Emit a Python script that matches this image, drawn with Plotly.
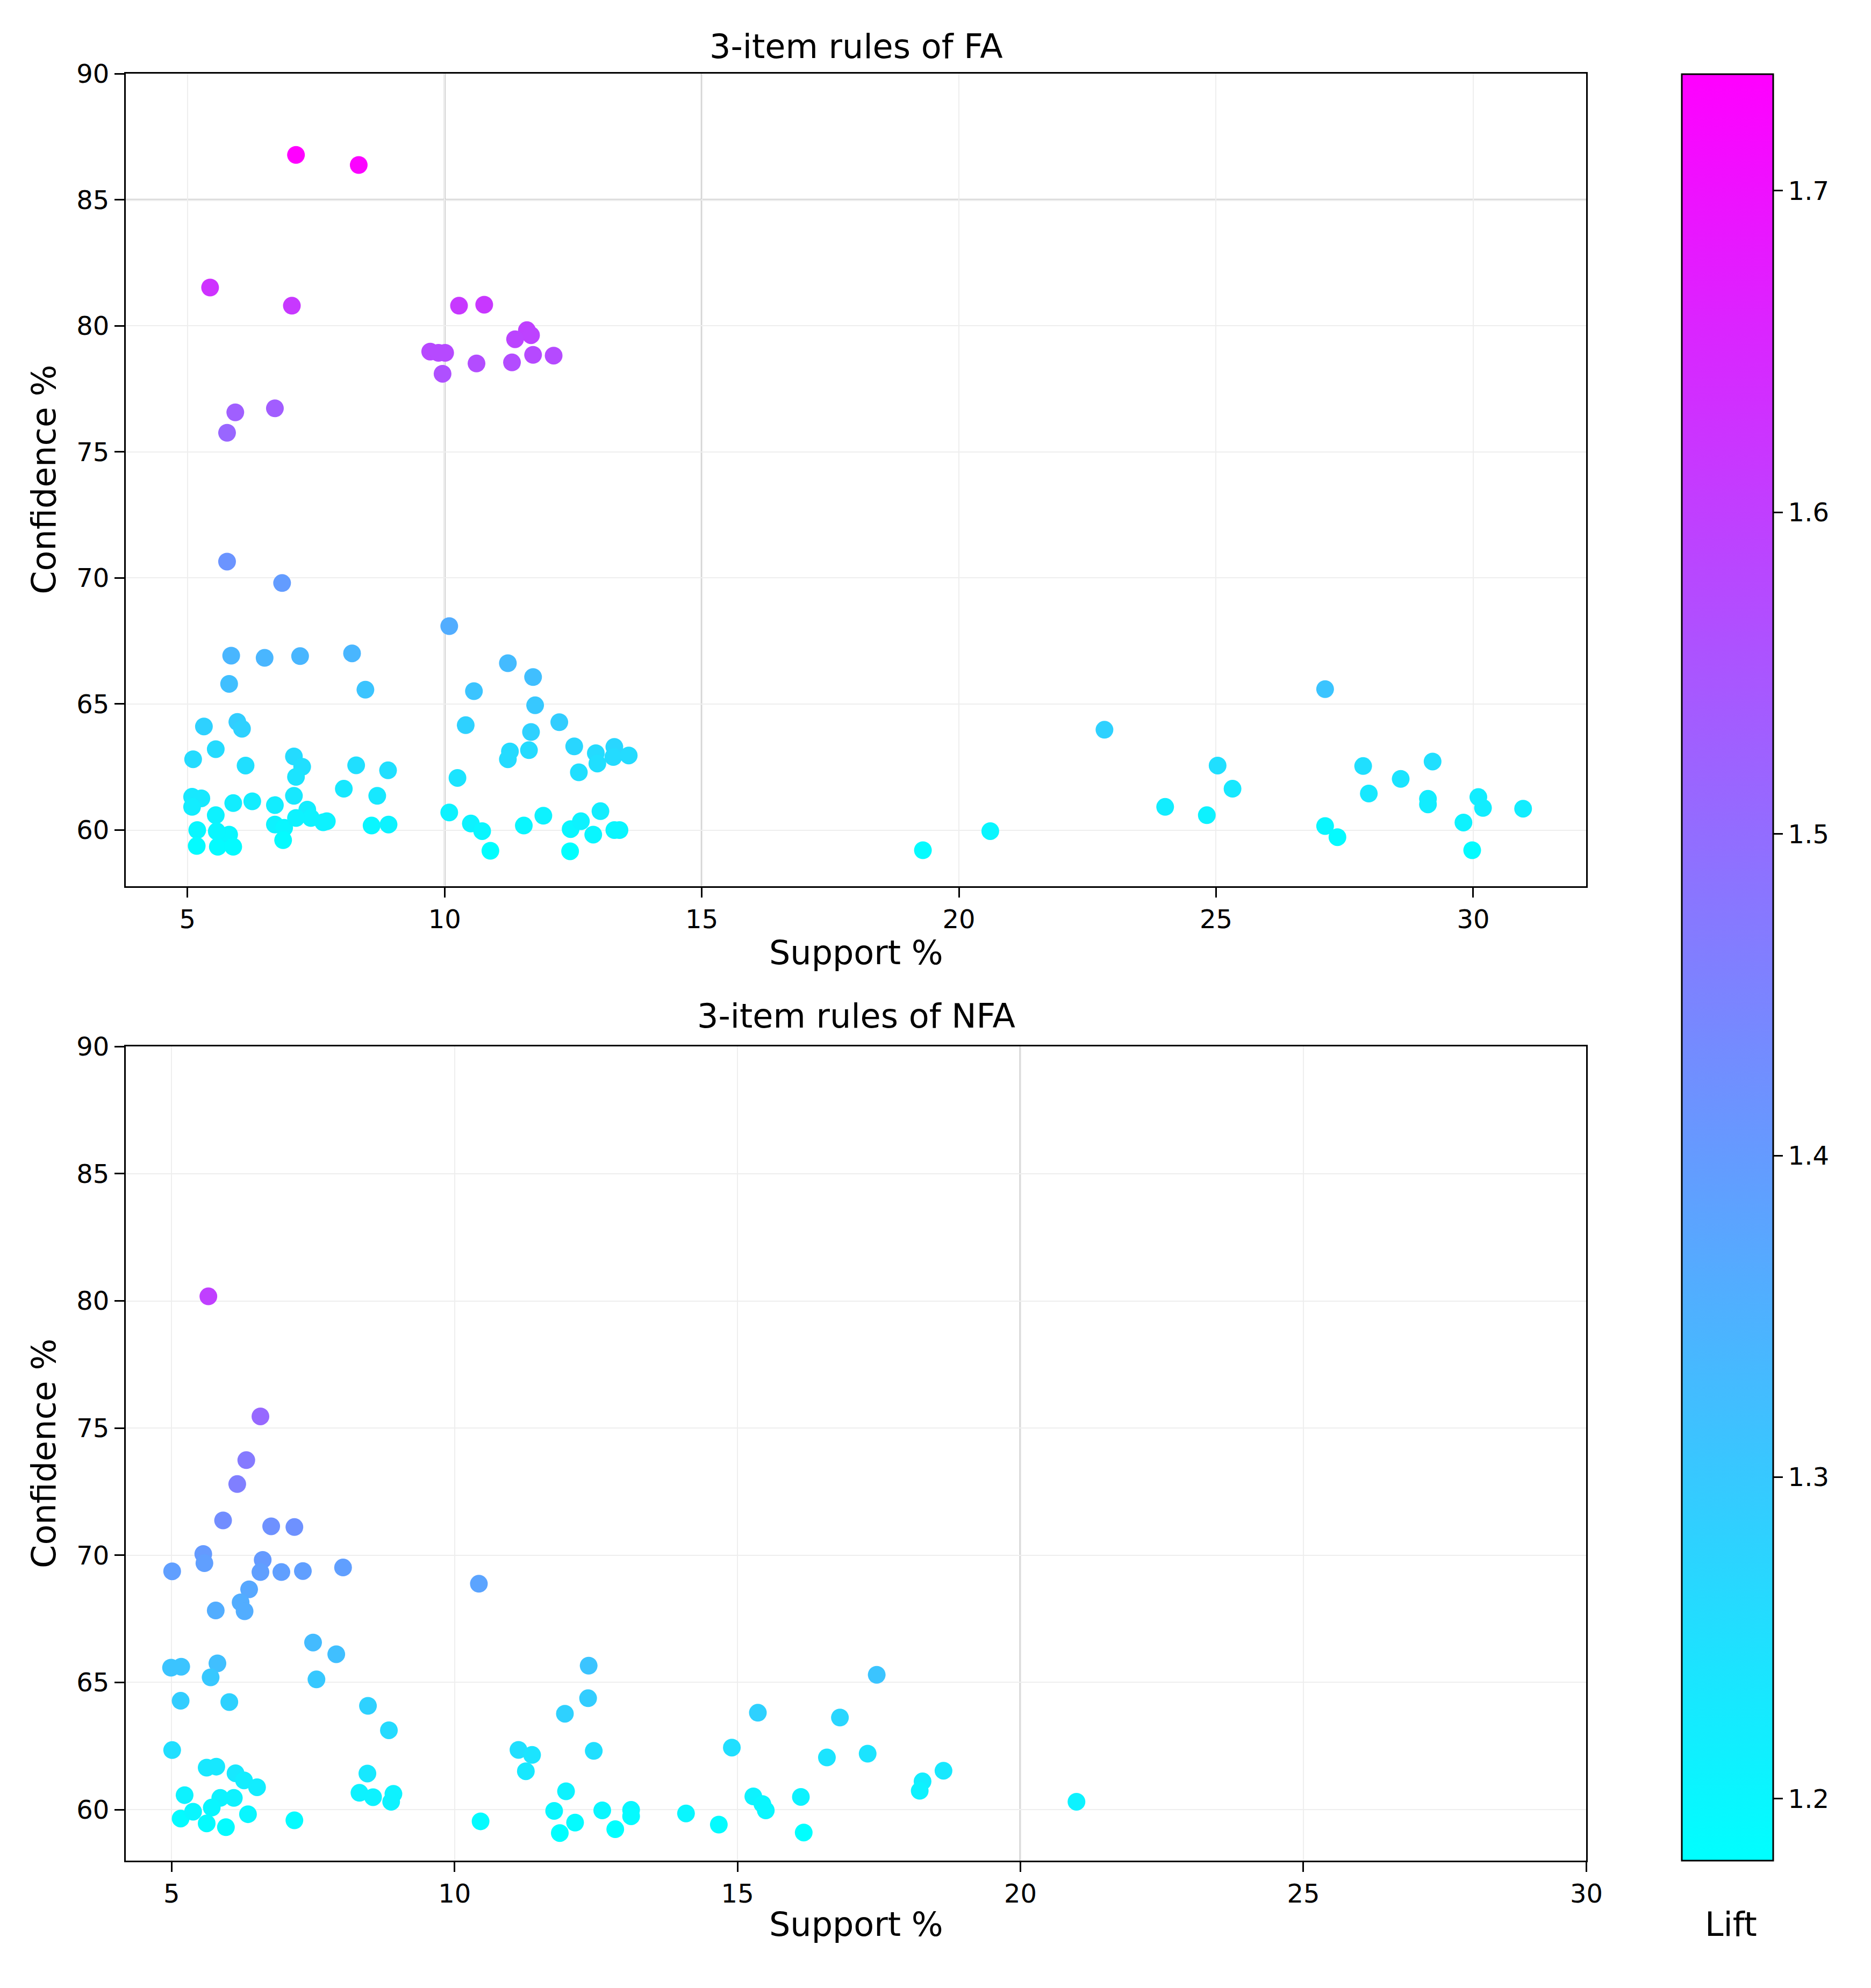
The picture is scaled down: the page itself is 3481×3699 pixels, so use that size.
"""
3-item association rules of FA / NFA : support vs confidence, coloured by lift
"""

import plotly.graph_objects as go
from plotly.subplots import make_subplots

# ── data ─────────────────────────────────────────────────────────────
fa_support = [
    7.11, 8.33, 5.44, 7.03, 10.28, 10.77, 11.60, 11.68, 11.37, 9.72, 9.88, 10.01,
    9.96, 10.62, 11.31, 11.72, 12.12, 5.93, 6.70, 5.77, 5.77, 6.84,
    10.09, 5.85, 6.50, 7.19, 8.20, 5.81, 8.46, 11.23, 11.72, 10.57, 11.76, 12.23,
    10.41, 11.68, 5.32, 5.97, 6.06, 5.55, 5.11, 6.13, 7.07, 7.23, 7.11, 8.28,
    8.90, 8.04, 8.69, 11.27, 11.23, 11.64, 12.52, 12.61, 12.94, 12.97, 13.30, 13.28,
    13.58, 10.25, 5.09, 5.27, 5.09, 5.89, 6.26, 6.70, 7.07, 7.33, 7.40, 7.71,
    7.64, 5.55, 5.19, 5.18, 5.59, 5.81, 5.89, 5.57, 6.70, 6.88, 6.86, 7.11,
    8.58, 8.91, 10.09, 10.51, 10.73, 10.89, 11.54, 11.92, 12.45, 12.65, 13.03, 12.89,
    13.30, 13.40, 12.44,
    19.30, 20.61, 22.83, 24.01, 24.82, 25.03, 25.32, 27.12, 27.12, 27.36, 27.86, 27.97,
    28.59, 29.21, 29.12, 29.12, 29.81, 29.98, 30.10, 30.19, 30.97,
]
fa_confidence = [
    86.78, 86.38, 81.52, 80.80, 80.80, 80.84, 79.83, 79.63, 79.47, 78.98, 78.93, 78.93,
    78.10, 78.51, 78.55, 78.85, 78.82, 76.57, 76.73, 75.76, 70.65, 69.80,
    68.09, 66.92, 66.83, 66.90, 67.01, 65.80, 65.57, 66.62, 66.07, 65.51, 64.95, 64.28,
    64.16, 63.89, 64.11, 64.29, 64.02, 63.21, 62.81, 62.56, 62.92, 62.51, 62.11, 62.57,
    62.37, 61.64, 61.36, 63.12, 62.81, 63.17, 63.32, 62.29, 63.05, 62.64, 63.30, 62.90,
    62.96, 62.07, 61.32, 61.26, 60.92, 61.07, 61.14, 60.99, 61.36, 60.81, 60.48, 60.35,
    60.31, 60.59, 60.00, 59.37, 59.34, 59.82, 59.34, 59.95, 60.22, 60.09, 59.60, 60.48,
    60.18, 60.22, 60.70, 60.26, 59.96, 59.18, 60.18, 60.57, 60.04, 60.35, 60.75, 59.82,
    60.00, 60.00, 59.16,
    59.20, 59.96, 63.98, 60.92, 60.59, 62.56, 61.64, 65.59, 60.16, 59.72, 62.54, 61.45,
    62.03, 62.72, 61.24, 61.02, 60.30, 59.20, 61.31, 60.88, 60.85,
]
fa_lift = [
    1.736, 1.728, 1.63, 1.615, 1.615, 1.617, 1.596, 1.592, 1.589, 1.579, 1.578, 1.578,
    1.562, 1.570, 1.571, 1.577, 1.576, 1.53, 1.534, 1.515, 1.413, 1.396,
    1.36, 1.34, 1.34, 1.34, 1.34, 1.32, 1.31, 1.33, 1.32, 1.31, 1.30, 1.29,
    1.28, 1.28, 1.28, 1.29, 1.28, 1.26, 1.26, 1.25, 1.26, 1.25, 1.24, 1.25,
    1.25, 1.23, 1.23, 1.26, 1.26, 1.26, 1.27, 1.25, 1.26, 1.25, 1.27, 1.26,
    1.26, 1.24, 1.23, 1.23, 1.22, 1.22, 1.22, 1.22, 1.23, 1.22, 1.21, 1.21,
    1.21, 1.21, 1.20, 1.19, 1.19, 1.20, 1.19, 1.20, 1.21, 1.20, 1.19, 1.21,
    1.20, 1.21, 1.21, 1.21, 1.20, 1.183, 1.20, 1.21, 1.20, 1.21, 1.22, 1.20,
    1.20, 1.20, 1.181,
    1.19, 1.20, 1.28, 1.22, 1.21, 1.25, 1.23, 1.31, 1.20, 1.19, 1.25, 1.23,
    1.24, 1.25, 1.22, 1.22, 1.21, 1.19, 1.22, 1.22, 1.22,
]

nfa_support = [
    5.65, 6.57, 6.32, 6.16, 5.91, 6.76, 7.17, 5.56, 5.58, 5.01, 6.61, 6.57,
    6.94, 7.32, 8.03, 10.43, 6.37, 6.22, 6.29, 5.78, 7.50, 7.91, 7.56, 4.99,
    5.17, 5.81, 5.69, 5.16, 6.02, 8.47, 8.84, 5.01, 5.62, 5.79, 6.13, 6.28,
    6.51, 6.10, 5.86, 5.71, 5.23, 5.16, 5.38, 5.62, 5.96, 6.35, 7.17, 8.46,
    8.32, 8.56, 8.92, 8.88, 10.46, 11.13, 11.37, 11.26, 11.95, 12.37, 12.36, 12.46,
    11.97, 11.76, 11.86, 12.13, 12.61, 12.84, 13.12, 13.12,
    17.46, 15.36, 16.81, 14.90, 16.58, 17.30, 18.64, 18.27, 18.22, 16.12, 16.17, 15.28,
    15.44, 15.50, 14.09, 14.67, 20.99,
]
nfa_confidence = [
    80.18, 75.46, 73.74, 72.80, 71.37, 71.14, 71.11, 70.05, 69.69, 69.37, 69.82, 69.34,
    69.34, 69.38, 69.52, 68.88, 68.66, 68.15, 67.80, 67.83, 66.57, 66.11, 65.12, 65.58,
    65.62, 65.75, 65.20, 64.28, 64.23, 64.08, 63.12, 62.34, 61.65, 61.69, 61.43, 61.15,
    60.88, 60.46, 60.46, 60.08, 60.57, 59.65, 59.92, 59.46, 59.31, 59.82, 59.58, 61.42,
    60.66, 60.49, 60.62, 60.31, 59.54, 62.35, 62.15, 61.51, 63.77, 65.66, 64.38, 62.31,
    60.72, 59.95, 59.08, 59.49, 59.97, 59.23, 59.99, 59.74,
    65.30, 63.81, 63.62, 62.44, 62.05, 62.20, 61.53, 61.11, 60.74, 60.50, 59.10, 60.52,
    60.22, 59.97, 59.85, 59.41, 60.31,
]
nfa_lift = [
    1.60, 1.51, 1.47, 1.46, 1.43, 1.42, 1.42, 1.40, 1.39, 1.39, 1.40, 1.39,
    1.39, 1.39, 1.39, 1.38, 1.37, 1.36, 1.36, 1.36, 1.33, 1.32, 1.30, 1.31,
    1.31, 1.32, 1.30, 1.29, 1.28, 1.28, 1.26, 1.25, 1.23, 1.23, 1.23, 1.22,
    1.22, 1.21, 1.21, 1.20, 1.21, 1.19, 1.20, 1.19, 1.19, 1.20, 1.19, 1.23,
    1.21, 1.21, 1.21, 1.21, 1.19, 1.25, 1.24, 1.23, 1.28, 1.31, 1.29, 1.25,
    1.21, 1.20, 1.18, 1.19, 1.20, 1.18, 1.20, 1.19,
    1.31, 1.28, 1.27, 1.25, 1.24, 1.24, 1.23, 1.22, 1.21, 1.21, 1.18, 1.21,
    1.20, 1.20, 1.20, 1.19, 1.21,
]

x_ticks = [5, 10, 15, 20, 25, 30]
y_ticks = [60, 65, 70, 75, 80, 85, 90]
lift_ticks = [1.2, 1.3, 1.4, 1.5, 1.6, 1.7]

# grid lines that come out darker in the original picture
fa_dark_x = [10, 15]
fa_dark_y = [85]
nfa_dark_x = [20]

# ── page geometry ────────────────────────────────────────────────────
# positions below are measured in the 3481x3699 reference; the figure
# lands a little below/right of the window corner, so shift by that
WIN_W, WIN_H = 3481, 3699
OX, OY = 8, 31
W, H = WIN_W - 16, WIN_H - 16


def fx(px):
    return (px - OX) / W


def fy(py):
    return 1 - (py - OY) / H


FONT = "DejaVu Sans"
TICK_SIZE = 48
LABEL_SIZE = 62
COOL = [[0.0, "#00FFFF"], [1.0, "#FF00FF"]]

fig = make_subplots(rows=2, cols=1)

for row, (sx, cy, lf) in enumerate(
    [(fa_support, fa_confidence, fa_lift), (nfa_support, nfa_confidence, nfa_lift)], start=1
):
    fig.add_trace(
        go.Scatter(
            x=sx, y=cy, mode="markers", showlegend=False,
            marker=dict(color=lf, coloraxis="coloraxis", size=33, line=dict(width=0)),
        ),
        row=row, col=1,
    )

axis_common = dict(
    showline=True, linecolor="black", linewidth=3, mirror=True,
    ticks="outside", ticklen=18, tickwidth=3, tickcolor="black",
    showgrid=True, gridcolor="#eeeeee", gridwidth=2, zeroline=False,
    tickfont=dict(family=FONT, size=TICK_SIZE, color="black"),
)

fig.update_xaxes(axis_common, tickvals=x_ticks)
fig.update_yaxes(axis_common, tickvals=y_ticks)

x_dom = [fx(236), fx(2978)]
fig.update_xaxes(range=[3.80, 32.2], domain=x_dom, row=1, col=1)
fig.update_yaxes(range=[57.78, 90], domain=[fy(1656), fy(133)], row=1, col=1)
fig.update_xaxes(range=[4.19, 30], domain=x_dom, row=2, col=1)
fig.update_yaxes(range=[58.0, 90], domain=[fy(3483), fy(1957)], row=2, col=1)

# darker grid lines
grid_line = dict(color="#aaaaaa", width=3)
for v in fa_dark_x:
    fig.add_shape(type="line", xref="x", yref="y domain", x0=v, x1=v, y0=0, y1=1,
                  line=grid_line, layer="below")
for v in fa_dark_y:
    fig.add_shape(type="line", xref="x domain", yref="y", x0=0, x1=1, y0=v, y1=v,
                  line=grid_line, layer="below")
for v in nfa_dark_x:
    fig.add_shape(type="line", xref="x2", yref="y2 domain", x0=v, x1=v, y0=0, y1=1,
                  line=grid_line, layer="below")

# titles / axis labels
mid_x = fx(1607)
texts = [
    ("3-item rules of FA", mid_x, fy(82), 0),
    ("3-item rules of NFA", mid_x, fy(1900), 0),
    ("Support %", mid_x, fy(1781), 0),
    ("Support %", mid_x, fy(3603), 0),
    ("Confidence %", fx(82), fy(894), -90),
    ("Confidence %", fx(82), fy(2720), -90),
    ("Lift", fx(3250), fy(3603), 0),
]
for txt, ax, ay, ang in texts:
    fig.add_annotation(
        text=txt, x=ax, y=ay, xref="paper", yref="paper",
        xanchor="center", yanchor="middle", showarrow=False, textangle=ang,
        font=dict(family=FONT, size=LABEL_SIZE, color="black"),
    )

fig.update_layout(
    width=W, height=H,
    margin=dict(l=0, r=0, t=0, b=0),
    paper_bgcolor="white",
    plot_bgcolor="white",
    font=dict(family=FONT, color="black"),
    coloraxis=dict(
        colorscale=COOL, cmin=1.1808, cmax=1.7363,
        colorbar=dict(
            x=fx(3157), xanchor="left", xpad=0,
            y=fy(3483), yanchor="bottom", ypad=0,
            len=fy(134) - fy(3483), lenmode="fraction",
            thickness=170, thicknessmode="pixels",
            outlinecolor="black", outlinewidth=3,
            tickvals=lift_ticks, ticks="outside", ticklen=17, tickwidth=3,
            tickcolor="black",
            tickfont=dict(family=FONT, size=TICK_SIZE, color="black"),
        ),
    ),
)

fig.write_html("out.html")
